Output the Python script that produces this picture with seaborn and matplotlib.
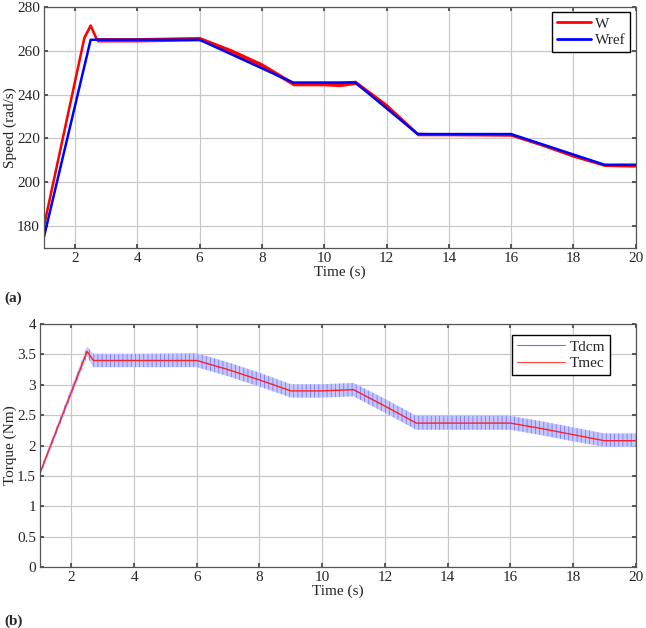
"""
Speed and torque response of the drive.
"""
import matplotlib
matplotlib.use("Agg")
import matplotlib.pyplot as plt
from matplotlib.lines import Line2D
import pandas as pd
import seaborn as sns

# speed reference and measured speed (rad/s)
t_ref = [1, 2.5, 6, 9, 11, 13, 16, 19, 20]
w_ref = [175, 265, 265, 245.5, 245.5, 222, 222, 208, 208]
t_w = [1, 2.3, 2.5, 2.7, 4, 6, 7, 8, 9, 10, 10.5, 11, 12, 13, 14, 16, 17, 18, 19, 20]
w_meas = [180, 266, 271.5, 265, 265, 265.5, 260, 253.5, 245, 245, 244.8, 245.6, 235, 222, 221.8, 221.6, 217, 212, 207.8, 207.5]
w_band = [0.5, 0.6, 0.6, 1.0, 1.0, 1.0, 1.0, 1.0, 1.0, 1.0, 1.2, 1.0, 1.0, 0.8, 0.6, 0.6, 0.6, 0.6, 0.6, 0.6]

# torque: mechanical load torque and dc motor torque ripple envelope (Nm)
t_trq = [1, 2.5, 2.7, 4, 6, 7, 8, 9, 10, 11, 12, 13, 14, 16, 17, 18, 19, 20]
t_mec = [1.55, 3.55, 3.4, 3.4, 3.4, 3.25, 3.08, 2.9, 2.9, 2.92, 2.65, 2.37, 2.37, 2.37, 2.28, 2.18, 2.08, 2.08]
t_dcm_hi = [1.6, 3.63, 3.51, 3.51, 3.52, 3.37, 3.2, 3.01, 3.01, 3.03, 2.77, 2.49, 2.49, 2.49, 2.4, 2.3, 2.2, 2.2]
t_dcm_lo = [1.5, 3.47, 3.29, 3.29, 3.29, 3.14, 2.97, 2.79, 2.79, 2.81, 2.54, 2.26, 2.26, 2.26, 2.17, 2.07, 1.98, 1.98]

xticks = list(range(2, 21, 2))

sns.set_theme(style="ticks")
plt.rcParams["font.family"] = ["Liberation Serif", "DejaVu Serif"]
plt.rcParams["hatch.linewidth"] = 0.6

fig = plt.figure(figsize=(6.46, 6.28), dpi=100)
ax1 = fig.add_axes([0.068, 0.605, 0.916, 0.384])
ax2 = fig.add_axes([0.062, 0.097, 0.922, 0.387])

df_w = pd.DataFrame({"t": t_w, "w": w_meas})
df_ref = pd.DataFrame({"t": t_ref, "w": w_ref})
lo = [a - b for a, b in zip(w_meas, w_band)]
hi = [a + b for a, b in zip(w_meas, w_band)]
ax1.fill_between(t_w, lo, hi, color="#ff1010", lw=0)
sns.lineplot(data=df_w, x="t", y="w", ax=ax1, color="#ff0000", lw=1.8)
sns.lineplot(data=df_ref, x="t", y="w", ax=ax1, color="#0000ff", lw=1.8)
ax1.set_xlim(1, 20)
ax1.set_ylim(170, 280)
ax1.set_yticks(range(180, 281, 20))
ax1.set_ylabel("Speed (rad/s)", fontsize=11, va="center")
ax1.yaxis.set_label_coords(-0.057, 0.5)
ax1.legend(
    handles=[Line2D([], [], color="#ff0000", lw=2), Line2D([], [], color="#0000ff", lw=2)],
    labels=["W", "Wref"], loc="upper right", fontsize=11, fancybox=False,
    edgecolor="black", framealpha=1, handlelength=2.2, borderaxespad=0.35,
    borderpad=0.3, labelspacing=0.2, handletextpad=0.3,
)

df_mec = pd.DataFrame({"t": t_trq, "T": t_mec})
ax2.fill_between(t_trq, t_dcm_lo, t_dcm_hi, facecolor="#c4c8ff", edgecolor="#7878ff",
                 hatch="||||", lw=0)
sns.lineplot(data=df_mec, x="t", y="T", ax=ax2, color="#ff2020", lw=1)
ax2.set_xlim(1, 20)
ax2.set_ylim(0, 4)
ax2.set_yticks([0, 0.5, 1, 1.5, 2, 2.5, 3, 3.5, 4])
ax2.set_yticklabels(["0", "0.5", "1", "1.5", "2", "2.5", "3", "3.5", "4"])
ax2.set_ylabel("Torque (Nm)", fontsize=11, va="center")
ax2.yaxis.set_label_coords(-0.05, 0.5)
ax2.legend(
    handles=[Line2D([], [], color="#7070ff", lw=0.8), Line2D([], [], color="#ff4040", lw=0.8)],
    labels=["Tdcm", "Tmec"], loc="upper right", bbox_to_anchor=(0.97, 0.985), fontsize=11,
    fancybox=False, edgecolor="black", framealpha=1, handlelength=3.2,
    borderpad=0.3, labelspacing=0.2, handletextpad=0.3,
)

for ax in (ax1, ax2):
    ax.set_xticks(xticks)
    ax.set_xlabel("Time (s)", fontsize=11, labelpad=0)
    ax.grid(True, color="#c8c8c8", lw=0.9)
    ax.tick_params(direction="in", top=True, right=True, labelsize=11, length=3,
                   color="#444444", pad=3)
    for s in ax.spines.values():
        s.set_color("#555555")
        s.set_linewidth(0.9)

fig.text(0.006, 0.52, "(a)", fontsize=11, weight="bold")
fig.text(0.006, 0.005, "(b)", fontsize=11, weight="bold")

plt.savefig("out.png", dpi=100)
